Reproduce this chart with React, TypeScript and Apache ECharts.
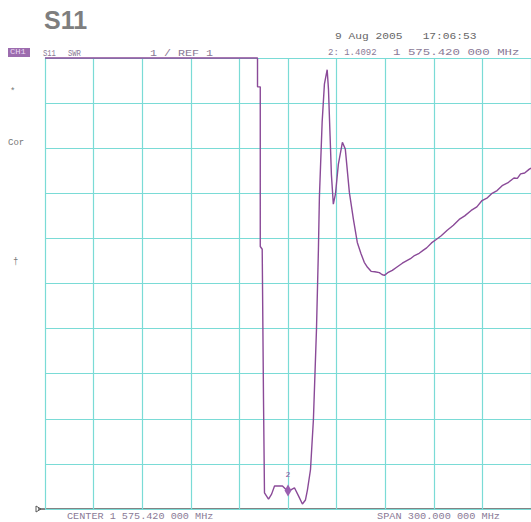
import React, { useEffect, useRef } from "react";
import * as echarts from "echarts";

// Frequency (MHz)
const freqMHz = [
  1425.42, 1556.6, 1556.6, 1558.3, 1558.3, 1559.5, 1560.3, 1560.9, 1563.4, 1565.3,
  1567.1, 1572.0, 1574.5, 1575.42, 1576.9, 1579.4, 1581.9, 1584.3, 1586.2, 1587.4,
  1589.3, 1591.1, 1593.0, 1594.2, 1594.8, 1596.5, 1597.9, 1599.6, 1600.4, 1601.4,
  1602.2, 1603.4, 1604.7, 1606.5, 1609.0, 1610.8, 1613.3, 1615.8, 1618.2, 1620.5,
  1622.5, 1624.5, 1626.7, 1629.0, 1631.8, 1633.4, 1634.9, 1637.0, 1639.8, 1642.5,
  1646.0, 1648.5, 1651.0, 1653.5, 1656.4, 1659.0, 1661.0, 1664.0, 1666.7, 1670.0,
  1673.7, 1677.5, 1681.1, 1684.5, 1688.5, 1692.0, 1695.2, 1698.5, 1701.4, 1704.5,
  1707.6, 1711.0, 1714.9, 1717.0, 1719.0, 1721.5, 1724.2, 1725.42,
];
// SWR values (11 = pegged at top of display)
const swr = [
  11.0, 11.0, 10.36, 10.36, 6.82, 6.76, 3.42, 1.36, 1.22, 1.33,
  1.51, 1.51, 1.42, 1.41, 1.42, 1.47, 1.29, 1.11, 1.2, 1.42,
  1.87, 2.98, 4.98, 6.76, 7.91, 9.58, 10.42, 10.74, 10.31, 9.27,
  8.42, 7.76, 7.98, 8.64, 9.13, 8.98, 8.02, 7.42, 6.91, 6.66,
  6.47, 6.36, 6.27, 6.26, 6.24, 6.2, 6.18, 6.24, 6.29, 6.36,
  6.45, 6.5, 6.55, 6.62, 6.67, 6.74, 6.79, 6.9, 6.97, 7.06,
  7.18, 7.29, 7.42, 7.5, 7.62, 7.7, 7.84, 7.9, 8.0, 8.06,
  8.17, 8.23, 8.34, 8.33, 8.43, 8.45, 8.53, 8.56,
];

const markerFreq = 1575.42;
const markerSwr = 1.4092;

const xMin = 1425.42;
const xMax = 1725.42;
const xStep = 30;
const yMin = 1;
const yMax = 11;
const yStep = 1;

const headerTexts = {
  title: "S11",
  date: "9 Aug 2005   17:06:53",
  ch: "CH1",
  param: "S11",
  fmt: "SWR",
  scale: "1 / REF 1",
  marker: "2: 1.4092",
  markerFreq: "1 575.420 000 MHz",
  center: "CENTER 1 575.420 000 MHz",
  span: "SPAN 300.000 000 MHz",
};

export default function App() {
  const ref = useRef<HTMLDivElement>(null);
  useEffect(() => {
    if (!ref.current) return;
    const chart = echarts.init(ref.current, null, { renderer: "svg" });
    const data = freqMHz.map((f, i) => [f, swr[i]]);
    const mono = "Liberation Mono, DejaVu Sans Mono, monospace";
    const txt = (text: string, x: number, y: number, scaleX = 1, fill = "#8a7a96", fontSize = 9) => ({
      type: "text",
      x,
      y,
      scaleX,
      style: { text, fontFamily: mono, fontSize, fill, verticalAlign: "middle", align: "left" },
    });
    chart.setOption({
      animation: false,
      backgroundColor: "#ffffff",
      grid: { left: 45, top: 58, width: 487, height: 451, containLabel: false },
      xAxis: {
        type: "value",
        min: xMin,
        max: xMax,
        interval: xStep,
        axisLine: { show: false },
        axisTick: { show: false },
        axisLabel: { show: false },
        splitLine: { show: true, lineStyle: { color: "#7adbd6", width: 1.2 } },
      },
      yAxis: {
        type: "value",
        min: yMin,
        max: yMax,
        interval: yStep,
        axisLine: { show: false },
        axisTick: { show: false },
        axisLabel: { show: false },
        splitLine: { show: true, lineStyle: { color: "#7adbd6", width: 1.2 } },
      },
      series: [
        {
          type: "line",
          data,
          showSymbol: false,
          clip: false,
          lineStyle: { color: "#8a4a98", width: 1.4 },
          markPoint: {
            symbol: "diamond",
            symbolSize: [7, 12],
            itemStyle: { color: "#9a5fb0" },
            label: {
              show: true,
              formatter: "2",
              position: "top",
              distance: 6,
              color: "#8e4f9c",
              fontSize: 8,
              fontFamily: mono,
            },
            data: [{ coord: [markerFreq, markerSwr] }],
          },
        },
      ],
      graphic: [
        {
          type: "text",
          x: 44,
          y: 20,
          style: {
            text: headerTexts.title,
            fontFamily: "Liberation Sans, Arial, sans-serif",
            fontWeight: "bold",
            fontSize: 25,
            fill: "#7e7e7e",
            verticalAlign: "middle",
          },
        },
        txt(headerTexts.date, 335, 37, 1.25, "#666666"),
        { type: "rect", shape: { x: 8, y: 48, width: 22, height: 9 }, style: { fill: "#9c6cae" } },
        txt(headerTexts.ch, 10, 52.5, 1.1, "#ead8f2", 8),
        txt(headerTexts.param, 43, 53, 0.8),
        txt(headerTexts.fmt, 68, 53, 0.8),
        txt(headerTexts.scale, 150, 53, 1.3),
        txt(headerTexts.marker, 328, 53, 1.0),
        txt(headerTexts.markerFreq, 393, 53, 1.38),
        txt("*", 10, 92, 1, "#777777"),
        txt("Cor", 8, 143, 1, "#777777"),
        txt("†", 13, 262, 1, "#777777"),
        {
          type: "line",
          shape: { x1: 38, y1: 509, x2: 531, y2: 509 },
          style: { stroke: "#5a5a5a", lineWidth: 1.5 },
        },
        {
          type: "polygon",
          shape: { points: [[36, 506], [36, 512], [41, 509]] },
          style: { fill: "none", stroke: "#5a5a5a", lineWidth: 1 },
        },
        txt(headerTexts.center, 67, 517, 1.13),
        txt(headerTexts.span, 377, 517, 1.14),
      ],
    });
    return () => chart.dispose();
  }, []);
  return (
    <div
      ref={ref}
      style={{ position: "absolute", left: 0, top: 0, width: 531, height: 522, background: "#fff" }}
    />
  );
}
